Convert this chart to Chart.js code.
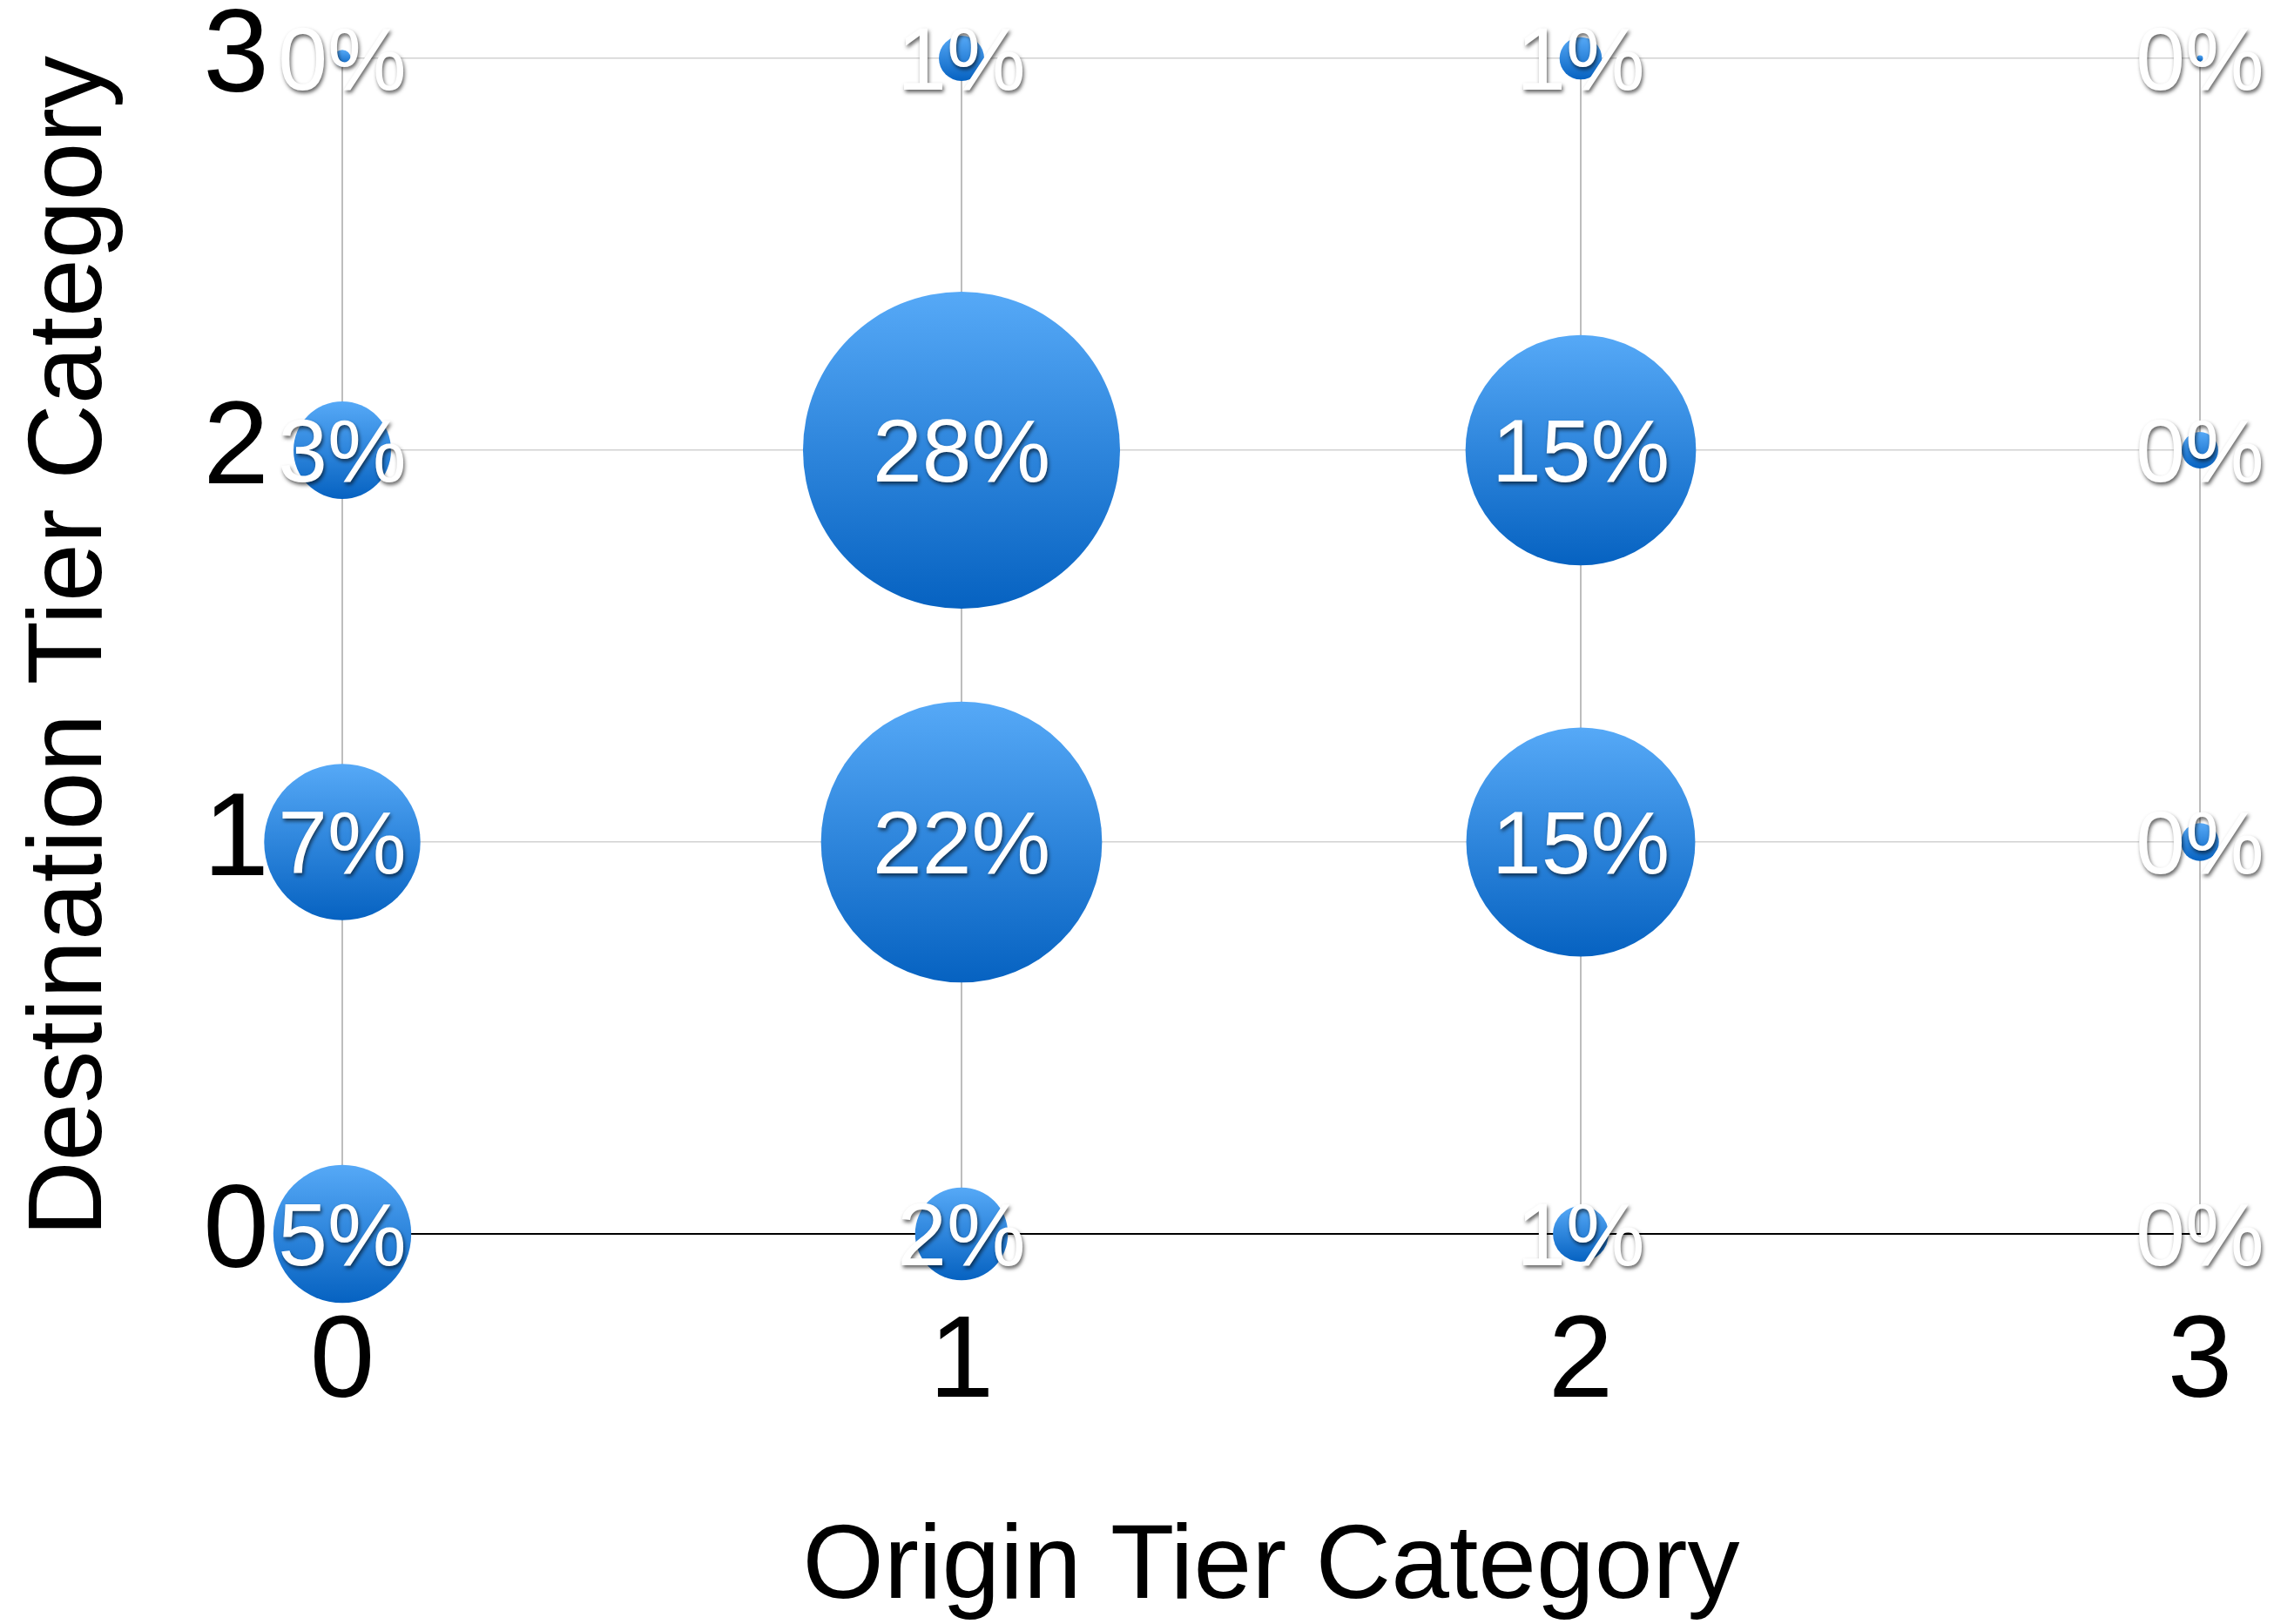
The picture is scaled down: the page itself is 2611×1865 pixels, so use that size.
<!DOCTYPE html>
<html>
<head>
<meta charset="utf-8">
<script src="https://cdn.jsdelivr.net/npm/chart.js@4/dist/chart.umd.min.js"></script>
<style>
  body { margin: 0; background: #fff; }
  #wrap { width: 2611px; height: 1865px; position: relative; }
</style>
</head>
<body>
<div id="wrap"><canvas id="tiers"></canvas></div>
<script>
// tier labels on both axes
var tierLabels = ['0', '1', '2', '3'];
// one entry per bubble: origin tier, destination tier, share of trips (%)
var originTier = [0, 1, 2, 3, 0, 1, 2, 3, 0, 1, 2, 3, 0, 1, 2, 3];
var destTier   = [0, 0, 0, 0, 1, 1, 1, 1, 2, 2, 2, 2, 3, 3, 3, 3];
var sharePct   = [5.3, 2.4, 0.86, 0, 6.8, 22, 14.6, 0.4, 2.65, 28, 14.8, 0.37, 0.08, 0.57, 0.5, 0.01];

var FONT = '"Liberation Sans", Arial, Helvetica, sans-serif';
var RADIUS_K = 34.4; // bubble area proportional to share

function bubbleRadius(i) {
  return RADIUS_K * Math.sqrt(sharePct[i]);
}

var points = originTier.map(function(x, i) {
  return { x: x, y: destTier[i] };
});

// gradient blue fill, light on top, darker below
function bubbleFill(context) {
  var chart = context.chart;
  if (context.type !== 'data' || !chart.chartArea) return '#2f87e0';
  var cy = chart.scales.y.getPixelForValue(destTier[context.dataIndex]);
  var r = bubbleRadius(context.dataIndex) || 1;
  var g = chart.ctx.createLinearGradient(0, cy - r, 0, cy + r);
  g.addColorStop(0, '#56a9f7');
  g.addColorStop(1, '#0662c1');
  return g;
}

// percent labels written on top of each bubble
var shareLabels = {
  id: 'shareLabels',
  afterDatasetsDraw: function(chart) {
    var ctx = chart.ctx;
    var meta = chart.getDatasetMeta(0);
    ctx.save();
    ctx.font = '102px ' + FONT;
    ctx.textAlign = 'center';
    ctx.textBaseline = 'middle';
    ctx.fillStyle = '#ffffff';
    ctx.shadowColor = 'rgba(0,0,0,0.6)';
    ctx.shadowOffsetX = 1.5;
    ctx.shadowOffsetY = 3;
    ctx.shadowBlur = 4;
    meta.data.forEach(function(el, i) {
      ctx.fillText(Math.round(sharePct[i]) + '%', el.x, el.y + 8);
    });
    ctx.restore();
  }
};

var tierChart = new Chart(document.getElementById('tiers'), {
  type: 'bubble',
  data: {
    datasets: [{
      data: points,
      radius: function(context) { return bubbleRadius(context.dataIndex); },
      backgroundColor: bubbleFill,
      borderWidth: 0,
      clip: false
    }]
  },
  options: {
    responsive: true,
    maintainAspectRatio: false,
    animation: false,
    events: [],
    layout: { autoPadding: false, padding: { top: 67, right: 85, left: 0, bottom: 0 } },
    plugins: {
      legend: { display: false },
      tooltip: { enabled: false }
    },
    scales: {
      x: {
        type: 'linear',
        min: 0,
        max: 3,
        afterFit: function(scale) {
          scale.height = 448;
          scale.paddingLeft = 0;
          scale.paddingRight = 0;
        },
        grid: { color: '#bdbdbd', lineWidth: 2, drawTicks: false },
        border: { display: true, color: '#000000', width: 2 },
        ticks: {
          stepSize: 1,
          padding: 70,
          color: '#000',
          font: { family: FONT, size: 134 },
          callback: function(v) { return tierLabels[v]; }
        },
        title: {
          display: true,
          text: 'Origin Tier Category',
          color: '#000',
          font: { family: FONT, size: 120, lineHeight: 1.05 },
          padding: { top: 0, bottom: 0 }
        }
      },
      y: {
        type: 'linear',
        min: 0,
        max: 3,
        afterFit: function(scale) {
          scale.width = 393;
          scale.paddingTop = 0;
          scale.paddingBottom = 0;
        },
        grid: { color: '#d2d2d2', lineWidth: 1.5, drawTicks: false },
        border: { display: false },
        ticks: {
          stepSize: 1,
          padding: 84,
          color: '#000',
          font: { family: FONT, size: 136 },
          callback: function(v) { return tierLabels[v]; }
        },
        title: {
          display: true,
          text: 'Destination Tier Category',
          color: '#000',
          font: { family: FONT, size: 120, lineHeight: 1.2 },
          padding: { top: 11, bottom: 0 }
        }
      }
    }
  },
  plugins: [shareLabels]
});
</script>
</body>
</html>
